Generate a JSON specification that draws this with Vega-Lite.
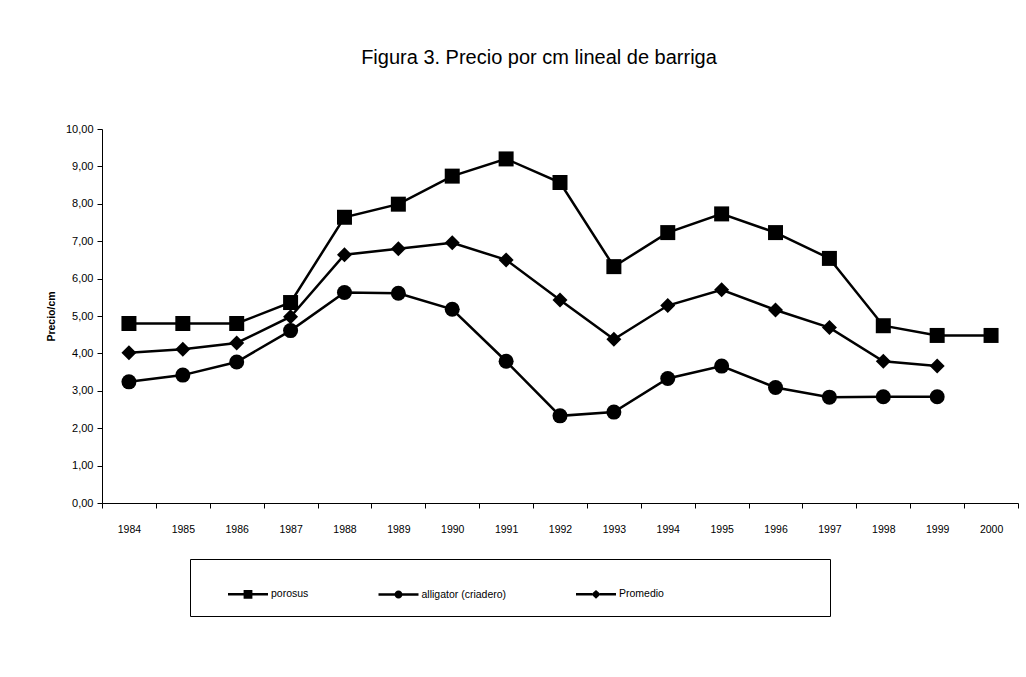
{
  "$schema": "https://vega.github.io/schema/vega-lite/v6.json",
  "autosize": {"type": "none"},
  "padding": {"left": 102, "top": 129, "right": 8, "bottom": 174},
  "width": 916,
  "height": 374,
  "background": "white",
  "title": {
    "text": "Figura 3. Precio por cm lineal de barriga",
    "font": "Liberation Sans",
    "fontSize": 20,
    "fontWeight": "normal",
    "color": "#000000",
    "anchor": "middle",
    "dx": -21,
    "baseline": "alphabetic",
    "offset": 39
  },
  "data": {
    "values": [
      {"year": "1984", "serie": "porosus", "valor": 4.8},
      {"year": "1985", "serie": "porosus", "valor": 4.8},
      {"year": "1986", "serie": "porosus", "valor": 4.8},
      {"year": "1987", "serie": "porosus", "valor": 5.36},
      {"year": "1988", "serie": "porosus", "valor": 7.64},
      {"year": "1989", "serie": "porosus", "valor": 7.99},
      {"year": "1990", "serie": "porosus", "valor": 8.74},
      {"year": "1991", "serie": "porosus", "valor": 9.2},
      {"year": "1992", "serie": "porosus", "valor": 8.57},
      {"year": "1993", "serie": "porosus", "valor": 6.32},
      {"year": "1994", "serie": "porosus", "valor": 7.23},
      {"year": "1995", "serie": "porosus", "valor": 7.73},
      {"year": "1996", "serie": "porosus", "valor": 7.23},
      {"year": "1997", "serie": "porosus", "valor": 6.54},
      {"year": "1998", "serie": "porosus", "valor": 4.74},
      {"year": "1999", "serie": "porosus", "valor": 4.48},
      {"year": "2000", "serie": "porosus", "valor": 4.48},
      {"year": "1984", "serie": "alligator (criadero)", "valor": 3.24},
      {"year": "1985", "serie": "alligator (criadero)", "valor": 3.42},
      {"year": "1986", "serie": "alligator (criadero)", "valor": 3.77},
      {"year": "1987", "serie": "alligator (criadero)", "valor": 4.61},
      {"year": "1988", "serie": "alligator (criadero)", "valor": 5.63},
      {"year": "1989", "serie": "alligator (criadero)", "valor": 5.61},
      {"year": "1990", "serie": "alligator (criadero)", "valor": 5.18},
      {"year": "1991", "serie": "alligator (criadero)", "valor": 3.79},
      {"year": "1992", "serie": "alligator (criadero)", "valor": 2.33},
      {"year": "1993", "serie": "alligator (criadero)", "valor": 2.43},
      {"year": "1994", "serie": "alligator (criadero)", "valor": 3.33},
      {"year": "1995", "serie": "alligator (criadero)", "valor": 3.66},
      {"year": "1996", "serie": "alligator (criadero)", "valor": 3.09},
      {"year": "1997", "serie": "alligator (criadero)", "valor": 2.83},
      {"year": "1998", "serie": "alligator (criadero)", "valor": 2.84},
      {"year": "1999", "serie": "alligator (criadero)", "valor": 2.84},
      {"year": "1984", "serie": "Promedio", "valor": 4.02},
      {"year": "1985", "serie": "Promedio", "valor": 4.11},
      {"year": "1986", "serie": "Promedio", "valor": 4.28},
      {"year": "1987", "serie": "Promedio", "valor": 4.98},
      {"year": "1988", "serie": "Promedio", "valor": 6.64},
      {"year": "1989", "serie": "Promedio", "valor": 6.8},
      {"year": "1990", "serie": "Promedio", "valor": 6.96},
      {"year": "1991", "serie": "Promedio", "valor": 6.5},
      {"year": "1992", "serie": "Promedio", "valor": 5.43},
      {"year": "1993", "serie": "Promedio", "valor": 4.38},
      {"year": "1994", "serie": "Promedio", "valor": 5.28},
      {"year": "1995", "serie": "Promedio", "valor": 5.7},
      {"year": "1996", "serie": "Promedio", "valor": 5.16},
      {"year": "1997", "serie": "Promedio", "valor": 4.69},
      {"year": "1998", "serie": "Promedio", "valor": 3.79},
      {"year": "1999", "serie": "Promedio", "valor": 3.66}
    ]
  },
  "encoding": {
    "x": {
      "field": "year",
      "type": "ordinal",
      "scale": {"paddingInner": 0, "paddingOuter": 0},
      "axis": {
        "title": null,
        "labelAngle": 0,
        "tickBand": "extent",
        "tickSize": 5,
        "labelPadding": 16,
        "labelFontSize": 10.5
      }
    },
    "y": {
      "field": "valor",
      "type": "quantitative",
      "scale": {"domain": [0, 10], "nice": false, "zero": true},
      "axis": {
        "title": "Precio/cm",
        "titleFontWeight": "bold",
        "titleFontSize": 10.5,
        "titlePadding": 9,
        "values": [0, 1, 2, 3, 4, 5, 6, 7, 8, 9, 10],
        "format": ".2f",
        "tickSize": 5,
        "labelPadding": 4,
        "labelFontSize": 11,
        "grid": false
      }
    }
  },
  "layer": [
    {
      "mark": {"type": "line", "color": "#000000", "strokeWidth": 2.5},
      "encoding": {"detail": {"field": "serie", "type": "nominal"}}
    },
    {
      "mark": {"type": "point", "filled": true, "color": "#000000", "opacity": 1},
      "encoding": {
        "shape": {
          "field": "serie",
          "type": "nominal",
          "scale": {"domain": ["porosus", "alligator (criadero)", "Promedio"], "range": ["square", "circle", "diamond"]},
          "legend": null
        },
        "size": {
          "field": "serie",
          "type": "nominal",
          "scale": {"domain": ["porosus", "alligator (criadero)", "Promedio"], "range": [225, 225, 196]},
          "legend": null
        }
      }
    },
    {
      "mark": {"type": "point", "filled": true, "fill": "#000000", "opacity": 0, "size": 1600},
      "encoding": {
        "shape": {
          "field": "serie",
          "type": "nominal",
          "scale": {
            "domain": ["porosus", "alligator (criadero)", "Promedio"],
            "range": [
              "M-1,-0.065H-0.2V0.065H-1ZM0.2,-0.065H1V0.065H0.2ZM-0.22,-0.22H0.22V0.22H-0.22Z",
              "M-1,-0.065H-0.18V0.065H-1ZM0.18,-0.065H1V0.065H0.18ZM0.2,0A0.2,0.2,0,1,1,-0.2,0A0.2,0.2,0,1,1,0.2,0Z",
              "M-1,-0.065H-0.2V0.065H-1ZM0.2,-0.065H1V0.065H0.2ZM0,-0.22L0.24,0L0,0.22L-0.24,0Z"
            ]
          },
          "legend": {
            "title": " ",
            "titleOrient": "right",
            "titlePadding": 152,
            "titleFontSize": 10,
            "orient": "none",
            "legendX": 88,
            "legendY": 430,
            "direction": "horizontal",
            "columns": 3,
            "columnPadding": 45.5,
            "padding": 14,
            "strokeColor": "#000000",
            "symbolSize": 1600,
            "symbolOffset": 23,
            "labelOffset": 2,
            "symbolOpacity": 1,
            "symbolFillColor": "#000000",
            "symbolStrokeColor": "transparent",
            "labelFontSize": 10.5,
            "labelColor": "#000000",
            "labelFont": "Liberation Sans"
          }
        }
      }
    }
  ],
  "resolve": {"scale": {"shape": "independent"}, "legend": {"shape": "independent"}},
  "config": {
    "font": "Liberation Sans",
    "locale": {"number": {"decimal": ",", "thousands": ".", "grouping": [3], "currency": ["", " €"]}},
    "view": {"stroke": null},
    "axis": {
      "domainColor": "#000000",
      "tickColor": "#000000",
      "labelColor": "#000000",
      "titleColor": "#000000",
      "labelFont": "Liberation Sans",
      "titleFont": "Liberation Sans"
    }
  }
}
